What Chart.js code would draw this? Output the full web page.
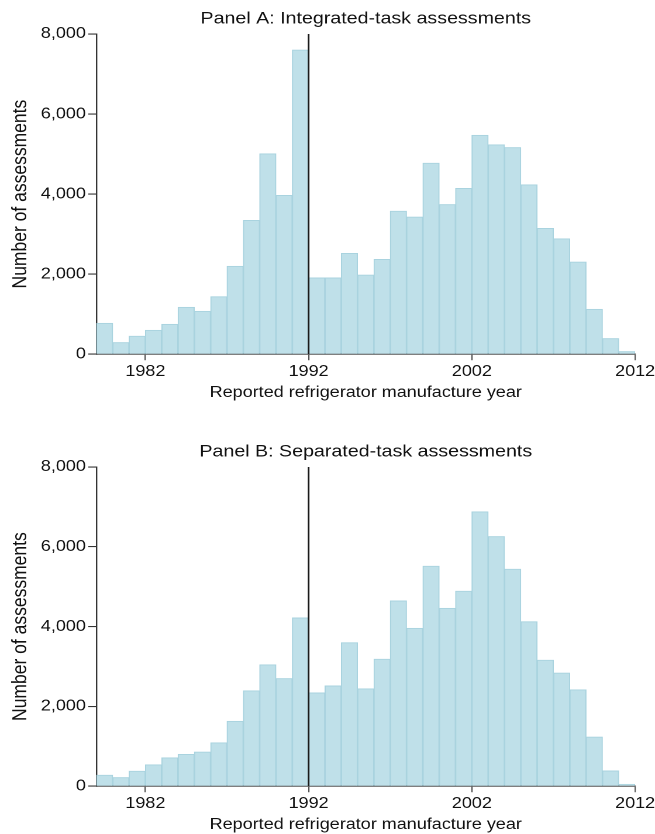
<!DOCTYPE html>
<html>
<head>
<meta charset="utf-8">
<script src="https://cdn.jsdelivr.net/npm/chart.js@4.4.1/dist/chart.umd.min.js"></script>
<style>
  html, body { margin: 0; padding: 0; background: #fff; }
  body { width: 655px; height: 834px; overflow: hidden; }
  /* the panels are laid out on a 560px canvas and widened to the page width */
  .panel { width: 560px; transform: scaleX(1.1696); transform-origin: 0 0; }
  .panel canvas { display: block; }
</style>
</head>
<body>
<div class="panel"><canvas id="panelA" width="560" height="433"></canvas></div>
<div class="panel"><canvas id="panelB" width="560" height="401"></canvas></div>
<script>
// Manufacture year of each one-year bin (bin covers [year, year + 1))
const years = [1979, 1980, 1981, 1982, 1983, 1984, 1985, 1986, 1987, 1988, 1989,
               1990, 1991, 1992, 1993, 1994, 1995, 1996, 1997, 1998, 1999, 2000,
               2001, 2002, 2003, 2004, 2005, 2006, 2007, 2008, 2009, 2010, 2011];

// Number of assessments per bin, integrated-task programme
const integratedCounts = [775, 295, 455, 600, 750, 1175, 1075, 1440, 2200, 3345, 5010,
                          3970, 7600, 1910, 1910, 2520, 1980, 2370, 3575, 3430, 4775, 3740,
                          4145, 5470, 5235, 5165, 4235, 3145, 2885, 2305, 1125, 395, 70];

// Number of assessments per bin, separated-task programme
const separatedCounts = [280, 220, 380, 540, 715, 800, 860, 1090, 1630, 2395, 3045,
                         2700, 4220, 2340, 2515, 3600, 2445, 3185, 4645, 3960, 5515, 4460,
                         4890, 6880, 6260, 5440, 4125, 3160, 2840, 2420, 1235, 385, 50];

const xTickYears = [1982, 1992, 2002, 2012];
const yTickValues = [0, 2000, 4000, 6000, 8000];
const cutoffYear = 1992;

const FONT = 'Liberation Sans, Arial, Helvetica, sans-serif';
const TEXT = '#111111';

function makePanel(canvasId, titleText, counts, bottomPad) {
  const bars = years.map((yr, i) => ({ x: yr + 0.5, y: counts[i] }));
  const cutoff = [
    { x: cutoffYear, y: yTickValues[0] },
    { x: cutoffYear, y: yTickValues[yTickValues.length - 1] }
  ];

  return new Chart(document.getElementById(canvasId), {
    type: 'bar',
    data: {
      datasets: [
        {
          type: 'bar',
          data: bars,
          backgroundColor: '#bfe0e9',
          borderColor: '#a9d3df',
          borderWidth: 1,
          barPercentage: 1,
          categoryPercentage: 1,
          order: 2
        },
        {
          type: 'line',
          data: cutoff,
          borderColor: '#1a1a1a',
          borderWidth: 1.4,
          pointRadius: 0,
          fill: false,
          order: 1
        }
      ]
    },
    options: {
      responsive: false,
      animation: false,
      devicePixelRatio: 2,
      events: [],
      layout: { padding: { left: 0, right: 0, top: 0, bottom: bottomPad } },
      plugins: {
        legend: { display: false },
        tooltip: { enabled: false },
        title: {
          display: true,
          text: titleText,
          fullSize: false,
          color: TEXT,
          font: { family: FONT, size: 16.8, weight: 'normal' },
          padding: { top: 9, bottom: 4.8 }
        }
      },
      scales: {
        x: {
          type: 'linear',
          min: years[0],
          max: xTickYears[xTickYears.length - 1],
          offset: false,
          afterBuildTicks: (scale) => { scale.ticks = xTickYears.map(v => ({ value: v })); },
          // keep only half of the last year label as right-hand margin
          afterFit: (scale) => { scale.paddingRight = 17; },
          ticks: {
            autoSkip: false,
            maxRotation: 0,
            color: TEXT,
            padding: 2.4,
            font: { family: FONT, size: 15.4 },
            callback: (v) => String(v)
          },
          grid: {
            display: true,
            offset: false,
            drawOnChartArea: false,
            drawTicks: true,
            tickLength: 6,
            color: '#555555',
            lineWidth: 1.1
          },
          border: { display: true, color: '#555555', width: 1.2 },
          title: {
            display: true,
            text: 'Reported refrigerator manufacture year',
            color: TEXT,
            font: { family: FONT, size: 15.4 },
            padding: { top: 0, bottom: 0 }
          }
        },
        y: {
          min: yTickValues[0],
          max: yTickValues[yTickValues.length - 1],
          afterBuildTicks: (scale) => { scale.ticks = yTickValues.map(v => ({ value: v })); },
          ticks: {
            color: TEXT,
            padding: 2,
            font: { family: FONT, size: 15.4 },
            callback: (v) => v.toLocaleString('en-US')
          },
          grid: {
            display: true,
            drawOnChartArea: false,
            drawTicks: true,
            tickLength: 7,
            color: '#333333',
            lineWidth: 1.1
          },
          border: { display: true, color: '#333333', width: 1.2 },
          title: {
            display: true,
            text: 'Number of assessments',
            color: TEXT,
            font: { family: FONT, size: 17.5 },
            padding: { top: 7.0, bottom: 4.9 }
          }
        }
      }
    }
  });
}

makePanel('panelA', 'Panel A: Integrated-task assessments', integratedCounts, 31);
makePanel('panelB', 'Panel B: Separated-task assessments', separatedCounts, 0);
</script>
</body>
</html>
